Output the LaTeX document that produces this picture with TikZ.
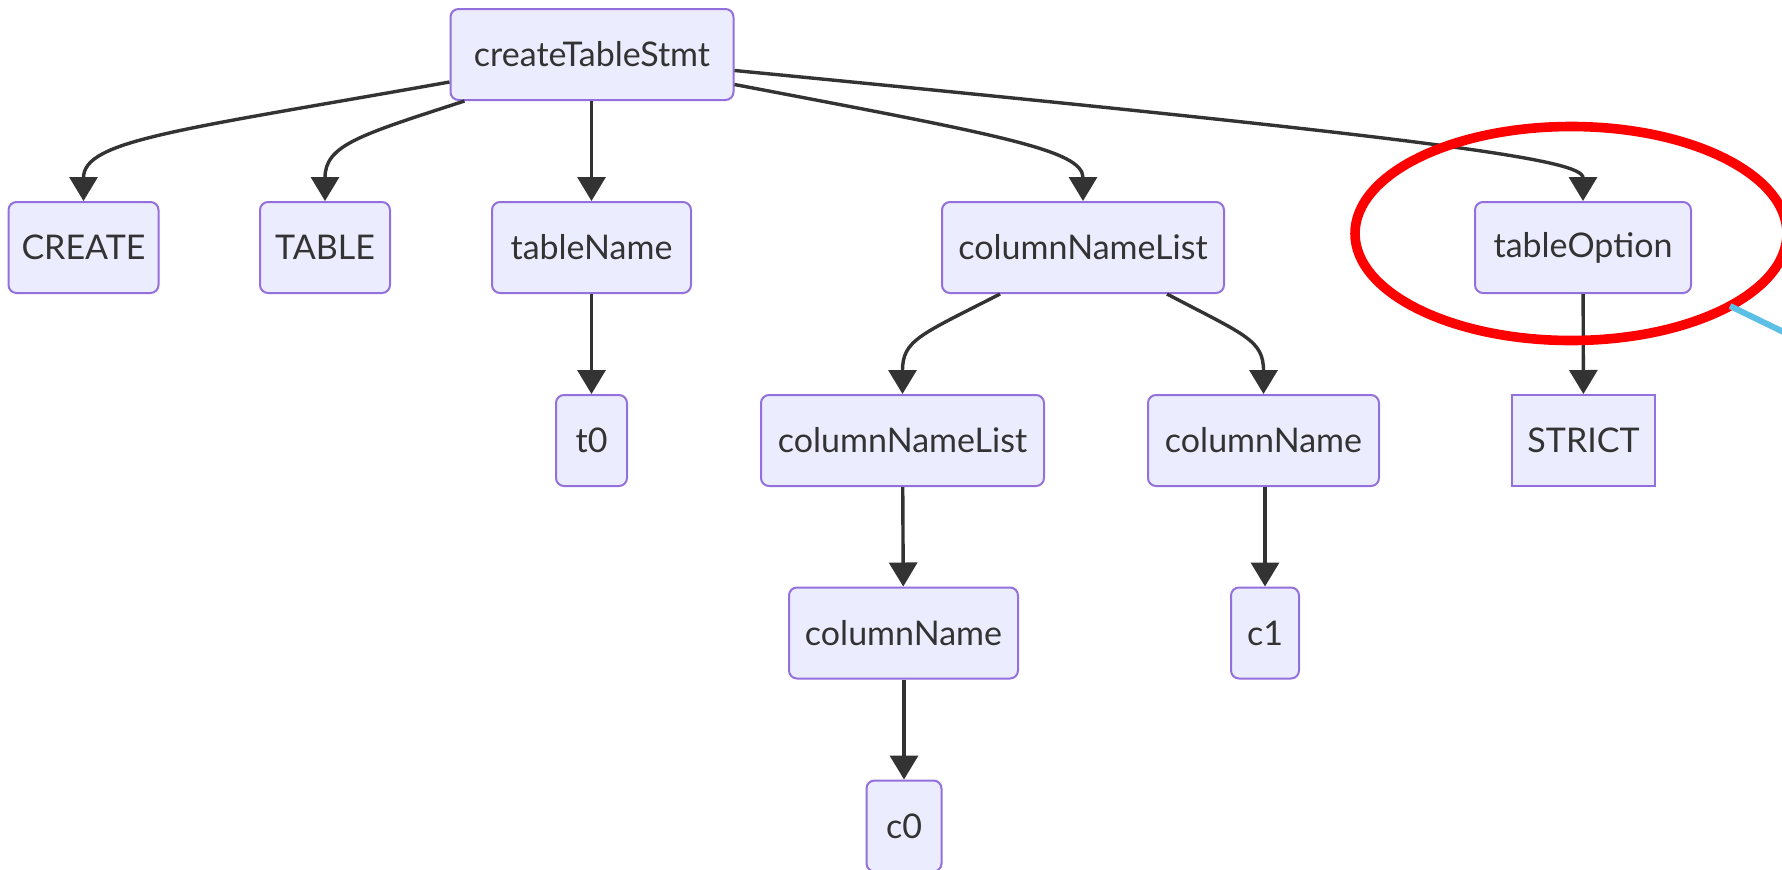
\documentclass[tikz,border=0pt]{standalone}
\usepackage{fontspec}
\setmainfont{Lato}
\usetikzlibrary{arrows.meta}
\definecolor{boxfill}{HTML}{ECECFF}
\definecolor{boxline}{HTML}{9370DB}
\definecolor{ink}{HTML}{333333}
\definecolor{ringred}{HTML}{FF0000}
\definecolor{pointerblue}{HTML}{5BBFE6}
\begin{document}
\begin{tikzpicture}[x=0.5pt,y=-0.5pt,
  tnode/.style={draw=boxline,fill=boxfill,line width=1pt,rounded corners=4pt,
    minimum height=45.5pt,inner sep=0pt,text=ink,font=\fontsize{17}{20}\selectfont},
  sqnode/.style={tnode,rounded corners=0pt},
  wd/.style={minimum width=#1*0.5pt},
  edge/.style={draw=ink,line width=1.7pt,-{Triangle[length=12pt,width=14pt]}}]
\fill[white] (0,0) rectangle (1782,869);
\clip (0,0) rectangle (1782,869);

% parse tree nodes
\node[tnode,wd=283] (root) at (592,54.5) {createTableStmt};
\node[tnode,wd=150] (create) at (83.5,247.5) {CREATE};
\node[tnode,wd=130] (table) at (325,247.5) {TABLE};
\node[tnode,wd=199] (tname) at (591.5,247.5) {tableName};
\node[tnode,wd=282] (cnl) at (1083,247.5) {columnNameList};
\node[tnode,wd=216] (topt) at (1583,247.5) {tableOption};
\node[tnode,wd=71] (t0) at (591.5,440.5) {t0};
\node[tnode,wd=283] (cnl2) at (902.5,440.5) {columnNameList};
\node[tnode,wd=231] (cn1) at (1263.5,440.5) {columnName};
\node[sqnode,wd=143] (strict) at (1583.5,440.5) {STRICT};
\node[tnode,wd=229] (cn0) at (903.5,633) {columnName};
\node[tnode,wd=68] (c1) at (1265,633) {c1};
\node[tnode,wd=75] (c0) at (904,826) {c0};

% connectors
\draw[edge] ([yshift=-13.75pt]root.west) .. controls (180,130) and (83.5,140) .. (create.north);
\draw[edge] ([xshift=7.5pt]root.south west) .. controls (360,135) and (325,145) .. (table.north);
\draw[edge] (root.south -| tname.north) -- (tname.north);
\draw[edge] ([yshift=-15pt]root.east) .. controls (1000,135) and (1083,150) .. (cnl.north);
\draw[edge] ([yshift=-8pt]root.east) .. controls (1450,140) and (1583,160) .. (topt.north);
\draw[edge] ([xshift=-41.5pt]cnl.south) .. controls (920,335) and (902.5,340) .. (cnl2.north);
\draw[edge] ([xshift=42pt]cnl.south) .. controls (1245,335) and (1263.5,340) .. (cn1.north);
\draw[edge] (tname) -- (t0);
\draw[edge] (topt) -- (strict);
\draw[edge] (cnl2) -- (cn0);
\draw[edge] (cn1.south -| c1.north) -- (c1.north);
\draw[edge] (cn0.south -| c0.north) -- (c0.north);

% highlight ring and pointer
\coordinate (ringc) at (1571,233.5);
\draw[ringred,line width=4.8pt] (ringc) ellipse [x radius=216,y radius=107];
\coordinate (ptrA) at (1730,306);
\coordinate (ptrB) at (1800,340);
\draw[pointerblue,line width=3pt] (ptrA) -- (ptrB);
\end{tikzpicture}
\end{document}
